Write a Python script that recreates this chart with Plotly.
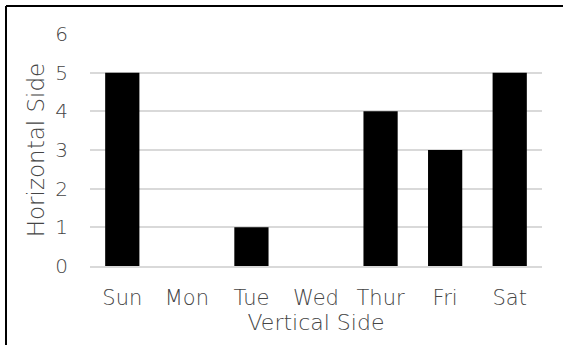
import plotly.graph_objects as go

days = ["Sun", "Mon", "Tue", "Wed", "Thur", "Fri", "Sat"]
counts = [5, 0, 1, 0, 4, 3, 5]
y_ticks = [0, 1, 2, 3, 4, 5, 6]

W, H = 563, 345
ML, MR, MT, MB = 90, 21, 34, 79
pw, ph = W - ML - MR, H - MT - MB

text_color = "#454545"
font_family = "DejaVu Sans"
font_weight = 200

fig = go.Figure(
    go.Bar(x=days, y=counts, marker=dict(color="black", line=dict(width=0)))
)

# frame lines along the top and left edges of the figure
fx = (6 - ML) / pw
fy = 1 + (MT - 6) / ph
fig.add_shape(type="line", xref="paper", yref="paper", x0=fx, x1=1 + (MR + 5) / pw,
              y0=fy, y1=fy, line=dict(color="black", width=2))
fig.add_shape(type="line", xref="paper", yref="paper", x0=fx, x1=fx,
              y0=fy, y1=-(MB + 5) / ph, line=dict(color="black", width=2))

fig.update_layout(
    width=W, height=H,
    margin=dict(l=ML, r=MR, t=MT, b=MB, pad=0),
    plot_bgcolor="white", paper_bgcolor="white",
    bargap=0.47,
    showlegend=False,
    font=dict(family=font_family, color=text_color, size=20, weight=font_weight),
    xaxis=dict(
        title=dict(text="Vertical Side", standoff=2,
                   font=dict(size=22, weight=font_weight)),
        showgrid=False, showline=True, linecolor="#d9d9d9", linewidth=2,
        ticks="", tickfont=dict(size=21, weight=font_weight), ticklabelstandoff=12,
    ),
    yaxis=dict(
        title=dict(text="Horizontal Side", standoff=4,
                   font=dict(size=23, weight=font_weight)),
        range=[0, 6], tickvals=y_ticks, showgrid=True, gridcolor="#d9d9d9",
        gridwidth=2, zeroline=False, ticks="", tickfont=dict(size=20, weight=font_weight),
        ticklabelstandoff=21,
    ),
)

fig.write_html("out.html")
